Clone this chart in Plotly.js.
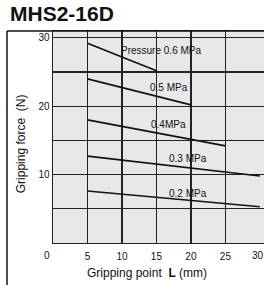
<!DOCTYPE html>
<html><head><meta charset="utf-8">
<script src="https://cdn.plot.ly/plotly-3.0.1.min.js"></script>
<style>html,body{margin:0;padding:0;background:#fff}#c{width:264px;height:285px}</style>
</head><body><div id="c"></div>
<script>
const seriesNames = ['Pressure 0.6 MPa','0.5 MPa','0.4MPa','0.3 MPa','0.2 MPa'];
const xs06 = [5, 15];   const ys06 = [29.2, 25.2];
const xs05 = [5, 20];   const ys05 = [24.0, 20.2];
const xs04 = [5, 25];   const ys04 = [18.0, 14.2];
const xs03 = [5, 30];   const ys03 = [12.7, 9.8];
const xs02 = [5, 30];   const ys02 = [7.6, 5.3];
const labelX = [15.7, 16.8, 16.8, 19.6, 19.6];
const labelY = [28.1, 22.8, 17.3, 12.3, 7.3];
const xTickVals = [5, 10, 15, 20, 25];
const xEdgeTick = 30;
const yTickVals = [0, 5, 10, 15, 20, 25, 30];
const yTickText = ['', '', '10', '', '20', '', '30'];

const XS = [xs06, xs05, xs04, xs03, xs02];
const YS = [ys06, ys05, ys04, ys03, ys02];
const traces = XS.map((x, i) => ({
  x: x, y: YS[i], type: 'scatter', mode: 'lines',
  line: {color: '#111', width: 1.6}, name: seriesNames[i], hoverinfo: 'skip'
}));

const font = {family: 'Liberation Sans, Arial, sans-serif', color: '#111'};
const annotations = seriesNames.map((t, i) => ({
  x: labelX[i], y: labelY[i], xref: 'x', yref: 'y', text: t, showarrow: false,
  font: Object.assign({}, font, {size: 10}), xanchor: 'center', yanchor: 'middle'
}));
annotations.push({x: -0.027, y: -0.022, xref: 'paper', yref: 'paper', text: '0', showarrow: false,
  font: Object.assign({}, font, {size: 10}), xanchor: 'center', yanchor: 'top'});
annotations.push({x: xEdgeTick, y: -0.022, xref: 'x', yref: 'paper', text: String(xEdgeTick), showarrow: false,
  font: Object.assign({}, font, {size: 10}), xanchor: 'center', yanchor: 'top', xshift: -2});
annotations.push({x: 0.445, y: -0.10, xref: 'paper', yref: 'paper', text: 'Gripping point  <b>L</b> (mm)',
  showarrow: false, font: Object.assign({}, font, {size: 12}), xanchor: 'center', yanchor: 'top'});
annotations.push({x: -0.152, y: 0.47, xref: 'paper', yref: 'paper', text: 'Gripping force  (N)',
  textangle: -90, showarrow: false, font: Object.assign({}, font, {size: 12}), xanchor: 'center', yanchor: 'middle'});
annotations.push({x: -0.213, y: 1.02, xref: 'paper', yref: 'paper', text: '<b>MHS2-16D</b>',
  showarrow: false, font: Object.assign({}, font, {size: 21}), xanchor: 'left', yanchor: 'bottom'});

const layout = {
  width: 264, height: 285,
  margin: {l: 53, r: 0, t: 31, b: 42, pad: 0},
  paper_bgcolor: '#fff', plot_bgcolor: '#e8e8e8',
  showlegend: false,
  font: Object.assign({}, font, {size: 10}),
  xaxis: {range: [0, 30.6], tickvals: xTickVals, ticks: '', showgrid: true, gridcolor: '#222', gridwidth: 1.3,
    zeroline: false, showline: true, linecolor: '#222', linewidth: 1.3, mirror: true, ticklabelstandoff: 4,
    tickfont: Object.assign({}, font, {size: 10}), fixedrange: true},
  yaxis: {range: [0, 31], tickvals: yTickVals, ticktext: yTickText, ticks: '', showgrid: true, gridcolor: '#222', gridwidth: 1.1,
    zeroline: false, showline: true, linecolor: '#222', linewidth: 1.3, mirror: true,
    tickfont: Object.assign({}, font, {size: 10}), fixedrange: true},
  shapes: [
    {type: 'line', xref: 'paper', yref: 'paper', x0: -0.218, x1: -0.218, y0: 1, y1: -0.2, line: {color: '#111', width: 1.5}},
    {type: 'line', xref: 'paper', yref: 'paper', x0: -0.218, x1: 1.01, y0: 1, y1: 1, line: {color: '#111', width: 1.5}}
  ],
  annotations: annotations
};
Plotly.newPlot('c', traces, layout, {displayModeBar: false, staticPlot: true});
</script></body></html>
